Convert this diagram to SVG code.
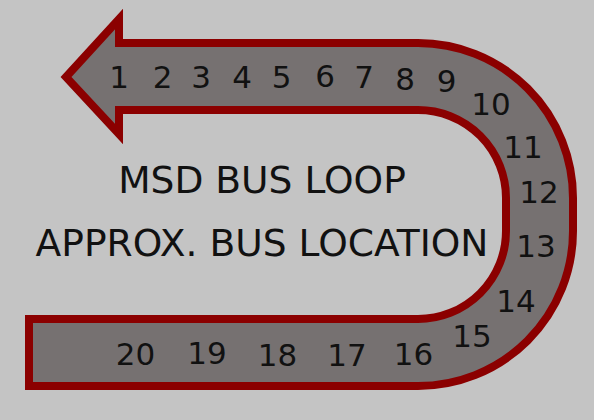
<svg xmlns="http://www.w3.org/2000/svg" width="594" height="420" viewBox="0 0 594 420">
<style>
.bg{fill:#c4c4c4}
.loop{fill:#767171;stroke:#8b0000;stroke-width:8;stroke-linejoin:miter;stroke-miterlimit:10}
.num{font-family:"DejaVu Sans",Verdana,sans-serif;font-size:31px;fill:#111;text-anchor:middle}
.title{font-family:"DejaVu Sans",Verdana,sans-serif;font-size:37.6px;fill:#111;text-anchor:middle}
</style>
<rect class="bg" x="0" y="0" width="594" height="420"/>
<g id="loop">
<path class="loop" d="M66 77 L119 19 L119 43 L418 43 A155 155 0 0 1 573 198 L573 231 A155 155 0 0 1 418 386 L29 386 L29 319 L418 319 A88 88 0 0 0 506 231 L506 198 A88 88 0 0 0 418 110 L119 110 L119 134 Z"/>
</g>
<g id="title">
<text class="title" x="262" y="193">MSD BUS LOOP</text>
<text class="title" x="262" y="256">APPROX. BUS LOCATION</text>
</g>
<g id="numbers">
<text class="num" x="119" y="88">1</text>
<text class="num" x="162.5" y="88">2</text>
<text class="num" x="201" y="88">3</text>
<text class="num" x="242" y="88">4</text>
<text class="num" x="281.5" y="88">5</text>
<text class="num" x="325" y="87">6</text>
<text class="num" x="364" y="88">7</text>
<text class="num" x="405" y="90">8</text>
<text class="num" x="446.5" y="92">9</text>
<text class="num" x="491" y="115">10</text>
<text class="num" x="523" y="158">11</text>
<text class="num" x="539" y="203">12</text>
<text class="num" x="536" y="256.5">13</text>
<text class="num" x="516" y="311.5">14</text>
<text class="num" x="472" y="347">15</text>
<text class="num" x="413.5" y="365">16</text>
<text class="num" x="347" y="366">17</text>
<text class="num" x="277.5" y="366">18</text>
<text class="num" x="207" y="364">19</text>
<text class="num" x="135.5" y="365">20</text>
</g>
</svg>
